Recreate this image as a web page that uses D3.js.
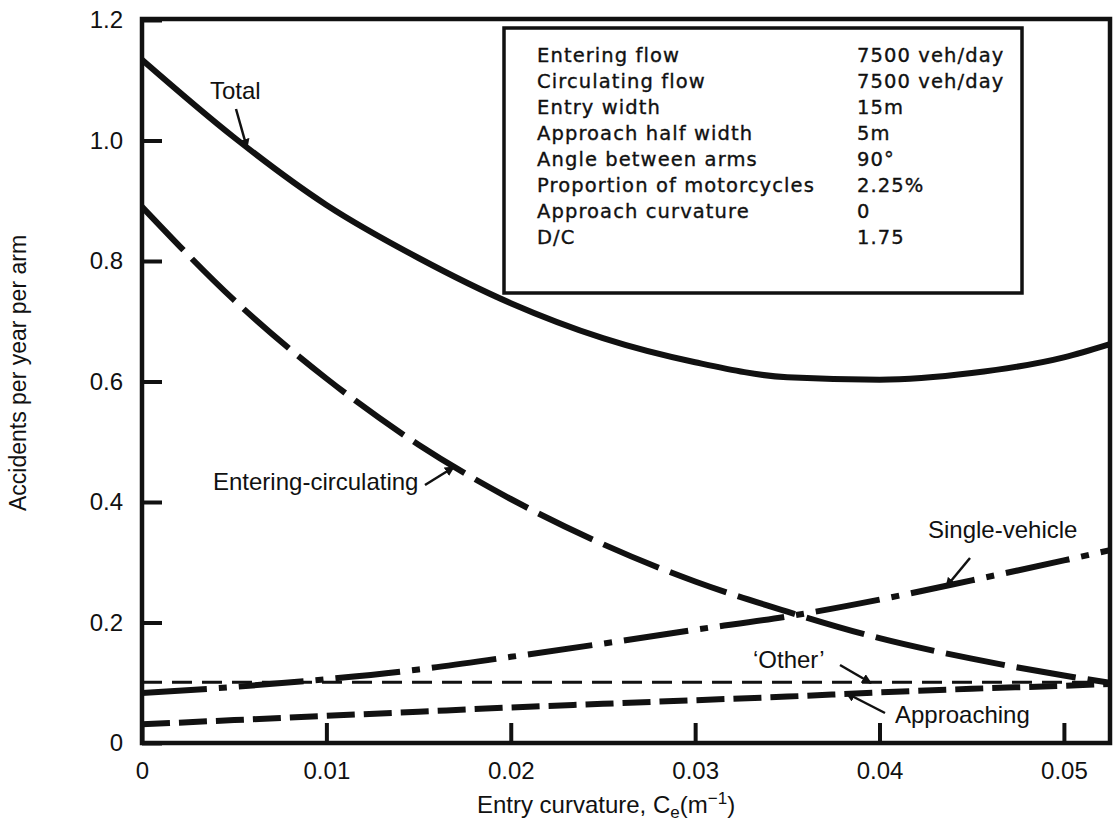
<!DOCTYPE html>
<html>
<head>
<meta charset="utf-8">
<script src="https://cdn.jsdelivr.net/npm/d3@7"></script>
<style>
  html, body { margin: 0; padding: 0; background: #fff; }
  svg { display: block; }
  text { fill: #111; }
</style>
</head>
<body>
<div id="chart"></div>
<script>
// ---------------- data ----------------
const curvature = [0, 0.005, 0.01, 0.015, 0.02, 0.025, 0.03, 0.035, 0.04, 0.045, 0.05, 0.0525];
const total               = [1.134, 1.005, 0.893, 0.805, 0.730, 0.672, 0.632, 0.607, 0.603, 0.614, 0.640, 0.662];
const enteringCirculating = [0.890, 0.735, 0.605, 0.495, 0.405, 0.330, 0.268, 0.218, 0.174, 0.140, 0.112, 0.100];
const singleVehicle       = [0.083, 0.093, 0.106, 0.122, 0.143, 0.165, 0.188, 0.210, 0.238, 0.270, 0.303, 0.320];
const otherAcc            = [0.101, 0.101, 0.101, 0.101, 0.101, 0.101, 0.101, 0.101, 0.101, 0.101, 0.101, 0.101];
const approaching         = [0.031, 0.038, 0.045, 0.052, 0.059, 0.065, 0.071, 0.077, 0.084, 0.090, 0.095, 0.098];

const xTickValues = [0, 0.01, 0.02, 0.03, 0.04, 0.05];
const xTickLabels = ["0", "0.01", "0.02", "0.03", "0.04", "0.05"];
const yTickValues = [0, 0.2, 0.4, 0.6, 0.8, 1.0, 1.2];
const yTickLabels = ["0", "0.2", "0.4", "0.6", "0.8", "1.0", "1.2"];

const infoLabels = ["Entering flow", "Circulating flow", "Entry width", "Approach half width",
                    "Angle between arms", "Proportion of motorcycles", "Approach curvature", "D/C"];
const infoValues = ["7500 veh/day", "7500 veh/day", "15m", "5m", "90\u00B0", "2.25%", "0", "1.75"];

const seriesNames = ["Total", "Entering-circulating", "Single-vehicle", "\u2018Other\u2019", "Approaching"];

// ---------------- layout ----------------
const W = 1120, H = 833;
const pL = 142, pR = 1110, pT = 19, pB = 743;
const FONT = "Arial, 'Liberation Sans', Helvetica, sans-serif";
const BOXFONT = "'DejaVu Sans', Verdana, sans-serif";

const svg = d3.select("#chart").append("svg").attr("width", W).attr("height", H);

const x = d3.scaleLinear().domain([0, 0.0525]).range([pL, pR]);
const y = d3.scaleLinear().domain([0, 1.2]).range([pB, pT + 1]);

const defs = svg.append("defs");
defs.append("clipPath").attr("id", "plotclip")
  .append("rect").attr("x", pL).attr("y", pT).attr("width", pR - pL).attr("height", pB - pT);

defs.append("marker")
  .attr("id", "arrow").attr("viewBox", "0 0 10 10").attr("refX", 9).attr("refY", 5)
  .attr("markerWidth", 4).attr("markerHeight", 4).attr("orient", "auto")
  .attr("markerUnits", "strokeWidth")
  .append("path").attr("d", "M0,0 L10,5 L0,10 Z").attr("fill", "#111");

// ---------------- axes ----------------
const xAxis = d3.axisBottom(x).tickValues(xTickValues)
  .tickFormat((d, i) => xTickLabels[i]).tickSize(-20).tickPadding(19);
const gx = svg.append("g").attr("transform", `translate(0,${pB})`).call(xAxis);
gx.select(".domain").remove();
gx.selectAll(".tick line").attr("stroke", "#111").attr("stroke-width", 4);
gx.selectAll(".tick text").attr("font-family", FONT).attr("font-size", 24).attr("fill", "#111");

const yAxis = d3.axisLeft(y).tickValues(yTickValues)
  .tickFormat((d, i) => yTickLabels[i]).tickSize(-20).tickPadding(19);
const gy = svg.append("g").attr("transform", `translate(${pL},0)`).call(yAxis);
gy.select(".domain").remove();
gy.selectAll(".tick line").attr("stroke", "#111").attr("stroke-width", 4);
gy.selectAll(".tick text").attr("font-family", FONT).attr("font-size", 24).attr("fill", "#111");

// frame
svg.append("rect").attr("x", pL).attr("y", pT).attr("width", pR - pL).attr("height", pB - pT)
  .attr("fill", "none").attr("stroke", "#111").attr("stroke-width", 4.5);

// axis titles
svg.append("text").attr("transform", `translate(26,${373}) rotate(-90)`)
  .attr("text-anchor", "middle").attr("font-family", FONT).attr("font-size", 23)
  .text("Accidents per year per arm");

const xt = svg.append("text").attr("x", 606).attr("y", 813).attr("text-anchor", "middle")
  .attr("font-family", FONT).attr("font-size", 24);
xt.append("tspan").text("Entry curvature, C");
xt.append("tspan").attr("font-size", 17).attr("dy", 5).text("e");
xt.append("tspan").attr("dy", -5).text("(m");
xt.append("tspan").attr("font-size", 17).attr("dy", -9).text("\u22121");
xt.append("tspan").attr("dy", 9).text(")");

// ---------------- lines ----------------
const line = vals => d3.line().x((d, i) => x(curvature[i])).y(d => y(d)).curve(d3.curveMonotoneX)(vals);
const plot = svg.append("g").attr("clip-path", "url(#plotclip)");

const styles = [
  { v: otherAcc,            w: 3,   dash: "20,10" },
  { v: approaching,         w: 6,   dash: "28,9" },
  { v: singleVehicle,       w: 6,   dash: "65,12,8,12" },
  { v: enteringCirculating, w: 6,   dash: "60,12" },
  { v: total,               w: 6,   dash: null }
];
styles.forEach(s => {
  plot.append("path").attr("d", line(s.v)).attr("fill", "none").attr("stroke", "#111")
    .attr("stroke-width", s.w).attr("stroke-dasharray", s.dash);
});

// ---------------- info box ----------------
svg.append("rect").attr("x", 504).attr("y", 28).attr("width", 518).attr("height", 265)
  .attr("fill", "#fff").attr("stroke", "#111").attr("stroke-width", 3.5);
infoLabels.forEach((t, i) => {
  [[537, t], [857, infoValues[i]]].forEach(([tx, s]) => {
    svg.append("text").attr("x", tx).attr("y", 62 + i * 26).attr("font-family", BOXFONT)
      .attr("font-size", 19.5).attr("letter-spacing", 1.1)
      .attr("stroke", "#111").attr("stroke-width", 0.35).text(s);
  });
});

// ---------------- annotations ----------------
const ann = [
  { t: seriesNames[0], tx: 210, ty: 99,  a: [[236, 109], [247, 148]] },
  { t: seriesNames[1], tx: 213, ty: 490, a: [[425, 485], [454, 467]] },
  { t: seriesNames[2], tx: 928, ty: 538, a: [[970, 558], [946, 587]] },
  { t: seriesNames[3], tx: 753, ty: 668, a: [[840, 665], [871, 683]] },
  { t: seriesNames[4], tx: 895, ty: 723, a: [[885, 713], [846, 693]] }
];
ann.forEach(d => {
  svg.append("text").attr("x", d.tx).attr("y", d.ty).attr("font-family", FONT).attr("font-size", 24).text(d.t);
  svg.append("line").attr("x1", d.a[0][0]).attr("y1", d.a[0][1]).attr("x2", d.a[1][0]).attr("y2", d.a[1][1])
    .attr("stroke", "#111").attr("stroke-width", 2.5).attr("marker-end", "url(#arrow)");
});
</script>
</body>
</html>
